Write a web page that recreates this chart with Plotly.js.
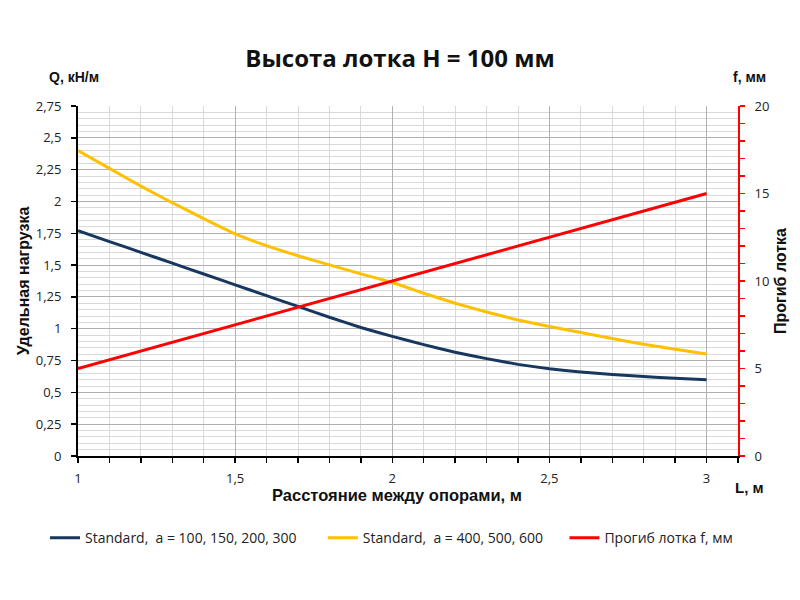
<!DOCTYPE html>
<html>
<head>
<meta charset="utf-8">
<script src="https://cdn.plot.ly/plotly-3.0.1.min.js"></script>
<style>
  html, body { margin: 0; padding: 0; background: #fff; }
  #plot { width: 800px; height: 600px; }
</style>
</head>
<body>
<div id="plot"></div>
<script>
// span between supports, m
const spanL = [1, 1.1, 1.2, 1.3, 1.4, 1.5, 1.6, 1.7, 1.8, 1.9, 2,
               2.1, 2.2, 2.3, 2.4, 2.5, 2.6, 2.7, 2.8, 2.9, 3];

// load, kN/m
const loadSmallA = [1.77, 1.685, 1.60, 1.515, 1.43, 1.345, 1.26, 1.175, 1.09, 1.01, 0.94,
                    0.875, 0.815, 0.765, 0.72, 0.685, 0.66, 0.64, 0.625, 0.61, 0.60];
const loadLargeA = [2.40, 2.26, 2.12, 1.99, 1.865, 1.745, 1.652, 1.573, 1.502, 1.431, 1.363,
                    1.279, 1.20, 1.132, 1.069, 1.017, 0.97, 0.923, 0.878, 0.839, 0.802];

// deflection, mm
const deflL = [1, 1.5, 2, 2.5, 3];
const deflF = [5, 7.5, 10, 12.5, 15];

const seriesNames = [
  'Standard,  a = 100, 150, 200, 300',
  'Standard,  a = 400, 500, 600',
  'Прогиб лотка f, мм'
];
const seriesColors = ['#17375e', '#ffc000', '#ff0000'];

const loadTicks = [0, 0.25, 0.5, 0.75, 1, 1.25, 1.5, 1.75, 2, 2.25, 2.5, 2.75];

const tickFont = { family: 'Open Sans, sans-serif', size: 13, color: '#222' };
const boldFont = { family: 'Liberation Sans, Arial, sans-serif', size: 16, color: '#111', weight: 'bold' };
const smallBold = { family: 'Liberation Sans, Arial, sans-serif', size: 14, color: '#111', weight: 'bold' };
const legendFont = { family: 'Open Sans, sans-serif', size: 14, color: '#222' };

const data = [
  {
    type: 'scatter', mode: 'lines', name: seriesNames[0],
    x: spanL, y: loadSmallA, legend: 'legend',
    line: { color: seriesColors[0], width: 3, shape: 'spline', smoothing: 0.3 }
  },
  {
    type: 'scatter', mode: 'lines', name: seriesNames[1],
    x: spanL, y: loadLargeA, legend: 'legend2',
    line: { color: seriesColors[1], width: 3, shape: 'spline', smoothing: 0.3 }
  },
  {
    type: 'scatter', mode: 'lines', name: seriesNames[2],
    x: deflL, y: deflF, yaxis: 'y2', legend: 'legend3',
    line: { color: seriesColors[2], width: 3 }
  }
];

function legendAt(x) {
  return {
    orientation: 'h', x: x, xanchor: 'left',
    y: -0.235, yanchor: 'middle',
    font: legendFont, itemwidth: 30
  };
}

const layout = {
  width: 800,
  height: 600,
  paper_bgcolor: '#fff',
  plot_bgcolor: '#fff',
  separators: ', ',
  showlegend: true,
  margin: { l: 78, r: 62, t: 106, b: 144 },
  title: {
    text: 'Высота лотка H = 100 мм',
    x: 0.5, xanchor: 'center', y: 0.903, yanchor: 'middle',
    font: { family: 'Open Sans, sans-serif', size: 24, color: '#111', weight: 'bold' }
  },
  xaxis: {
    range: [1, 3.1],
    tick0: 1, dtick: 0.5,
    ticks: 'outside', ticklen: 5, tickwidth: 1.5, tickcolor: '#000',
    ticklabelstandoff: 4,
    showline: true, linecolor: '#000', linewidth: 2,
    showgrid: true, gridcolor: '#b0b0b0', gridwidth: 1,
    zeroline: false,
    tickfont: tickFont,
    minor: { dtick: 0.1, ticks: 'outside', ticklen: 5, tickwidth: 1.5, tickcolor: '#000',
             showgrid: true, gridcolor: '#d9d9d9', gridwidth: 1 }
  },
  yaxis: {
    range: [0, 2.75],
    tickvals: loadTicks,
    ticks: 'outside', ticklen: 5, tickwidth: 1.5, tickcolor: '#000',
    ticklabelstandoff: 7,
    showline: true, linecolor: '#000', linewidth: 2,
    showgrid: true, gridcolor: '#b0b0b0', gridwidth: 1,
    zeroline: false,
    tickfont: tickFont,
    minor: { dtick: 0.05, showgrid: true, gridcolor: '#d9d9d9', gridwidth: 1 },
    title: { text: 'Удельная нагрузка', font: boldFont, standoff: 2 }
  },
  yaxis2: {
    overlaying: 'y', side: 'right', anchor: 'x',
    range: [0, 20], tick0: 0, dtick: 5,
    ticks: 'outside', ticklen: 5, tickwidth: 1.5, tickcolor: '#ff0000',
    ticklabelstandoff: 7,
    showline: true, linecolor: '#ff0000', linewidth: 2,
    showgrid: false, zeroline: false,
    tickfont: tickFont,
    minor: { dtick: 1, ticks: 'outside', ticklen: 5, tickwidth: 1.5, tickcolor: '#ff0000', showgrid: false },
    title: { text: 'Прогиб лотка', font: boldFont, standoff: 6 }
  },
  legend: legendAt(-0.05),
  legend2: legendAt(0.371),
  legend3: legendAt(0.737),
  annotations: [
    { text: 'Расстояние между опорами, м', xref: 'paper', yref: 'paper', x: 0.483, y: -0.111,
      xanchor: 'center', yanchor: 'middle', showarrow: false, font: { ...boldFont, size: 16.5 } },
    { text: 'Q, кН/м', xref: 'paper', yref: 'paper', x: -0.006, y: 1.083,
      xanchor: 'center', yanchor: 'middle', showarrow: false, font: smallBold },
    { text: 'f, мм', xref: 'paper', yref: 'paper', x: 1.017, y: 1.083,
      xanchor: 'center', yanchor: 'middle', showarrow: false, font: smallBold },
    { text: 'L, м', xref: 'paper', yref: 'paper', x: 1.017, y: -0.091,
      xanchor: 'center', yanchor: 'middle', showarrow: false, font: { ...smallBold, size: 15 } }
  ]
};

Plotly.newPlot('plot', data, layout, { displayModeBar: false, staticPlot: true });
</script>
</body>
</html>
